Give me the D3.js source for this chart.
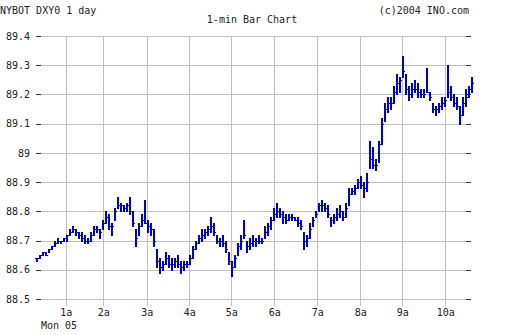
<!DOCTYPE html>
<html>
<head>
<meta charset="utf-8">
<script src="https://cdn.jsdelivr.net/npm/d3@7"></script>
<style>
  html, body { margin: 0; padding: 0; background: #fff; }
  svg { display: block; }
  text { font-family: "DejaVu Sans Mono", monospace; font-size: 10px; fill: #222; }
</style>
</head>
<body>
<svg id="chart" width="512" height="335"></svg>
<script>
// ---- data ----
const highs = [
  88.64,88.65,88.66,88.66,88.67,88.68,88.70,88.71,88.70,88.71,
  88.72,88.74,88.75,88.74,88.73,88.73,88.72,88.71,88.73,88.75,
  88.75,88.74,88.77,88.80,88.79,88.76,88.81,88.85,88.83,88.82,
  88.83,88.85,88.80,88.74,88.76,88.79,88.84,88.77,88.76,88.74,
  88.67,88.64,88.63,88.66,88.65,88.64,88.64,88.65,88.63,88.63,
  88.63,88.65,88.68,88.70,88.72,88.74,88.74,88.75,88.78,88.76,
  88.72,88.71,88.72,88.70,88.66,88.63,88.65,88.69,88.72,88.77,
  88.70,88.71,88.72,88.71,88.72,88.71,88.75,88.76,88.78,88.81,
  88.83,88.81,88.80,88.79,88.79,88.79,88.78,88.78,88.77,88.73,
  88.72,88.76,88.78,88.80,88.83,88.84,88.83,88.82,88.78,88.79,
  88.81,88.82,88.80,88.83,88.88,88.88,88.89,88.91,88.92,88.90,
  88.93,89.04,89.02,88.98,89.04,89.12,89.17,89.19,89.19,89.23,
  89.27,89.26,89.33,89.27,89.23,89.24,89.25,89.24,89.22,89.22,
  89.29,89.21,89.17,89.16,89.17,89.19,89.19,89.30,89.23,89.20,
  89.19,89.16,89.19,89.22,89.23,89.26
];
const lows = [
  88.63,88.64,88.65,88.65,88.66,88.67,88.68,88.69,88.69,88.70,
  88.70,88.72,88.73,88.72,88.71,88.70,88.69,88.69,88.70,88.72,
  88.73,88.71,88.74,88.76,88.74,88.72,88.77,88.81,88.80,88.80,
  88.80,88.79,88.75,88.68,88.72,88.75,88.76,88.73,88.72,88.68,
  88.61,88.59,88.60,88.62,88.61,88.60,88.61,88.61,88.59,88.60,
  88.61,88.62,88.64,88.67,88.69,88.70,88.71,88.72,88.73,88.72,
  88.69,88.68,88.68,88.66,88.62,88.58,88.61,88.65,88.67,88.71,
  88.66,88.67,88.68,88.68,88.69,88.69,88.71,88.72,88.74,88.77,
  88.78,88.78,88.76,88.76,88.77,88.77,88.77,88.75,88.74,88.67,
  88.68,88.71,88.75,88.78,88.80,88.80,88.80,88.78,88.75,88.76,
  88.77,88.78,88.77,88.78,88.82,88.86,88.86,88.88,88.88,88.85,
  88.87,88.95,88.95,88.94,88.97,89.03,89.11,89.14,89.15,89.17,
  89.20,89.21,89.26,89.20,89.18,89.19,89.21,89.19,89.19,89.19,
  89.21,89.18,89.14,89.13,89.14,89.15,89.16,89.19,89.18,89.16,
  89.15,89.10,89.13,89.16,89.19,89.21
];
const closes = [
  88.64,88.65,88.66,88.65,88.67,88.68,88.69,88.70,88.70,88.71,
  88.72,88.73,88.74,88.73,88.72,88.71,88.70,88.70,88.72,88.74,
  88.74,88.73,88.76,88.78,88.75,88.75,88.80,88.82,88.82,88.81,
  88.82,88.80,88.76,88.71,88.75,88.77,88.76,88.75,88.74,88.70,
  88.63,88.61,88.62,88.64,88.62,88.62,88.63,88.62,88.61,88.62,
  88.62,88.64,88.67,88.69,88.71,88.72,88.73,88.74,88.75,88.73,
  88.70,88.70,88.69,88.67,88.63,88.61,88.64,88.68,88.70,88.72,
  88.68,88.69,88.70,88.70,88.70,88.70,88.73,88.75,88.77,88.79,
  88.80,88.79,88.78,88.77,88.78,88.78,88.77,88.76,88.75,88.70,
  88.71,88.74,88.77,88.79,88.82,88.82,88.81,88.79,88.77,88.78,
  88.79,88.80,88.78,88.81,88.86,88.87,88.88,88.90,88.89,88.88,
  88.90,88.98,88.96,88.96,89.03,89.10,89.15,89.17,89.17,89.21,
  89.24,89.25,89.28,89.22,89.20,89.22,89.22,89.21,89.20,89.20,
  89.21,89.19,89.15,89.15,89.16,89.17,89.18,89.21,89.19,89.17,
  89.16,89.13,89.17,89.19,89.22,89.24
];
const yTicks = [88.5, 88.6, 88.7, 88.8, 88.9, 89.0, 89.1, 89.2, 89.3, 89.4];
const hourTickIndex = [9.9, 22.43, 36.9, 51.1, 65.1, 79.43, 93.77, 108.1, 122.1, 136.43];
const hourLabels = ["1a", "2a", "3a", "4a", "5a", "6a", "7a", "8a", "9a", "10a"];
const dayLabel = "Mon 05";
const titleLeft = "NYBOT DXY0 1 day";
const titleRight = "(c)2004 INO.com";
const titleCenter = "1-min Bar Chart";

// ---- layout ----
const svg = d3.select("#chart");
const plot = { left: 40, right: 466, top: 36, bottom: 299 };

const x = d3.scaleLinear().domain([0, highs.length - 1]).range([36, 471]);
const y = d3.scaleLinear().domain([88.5, 89.4]).range([plot.bottom, plot.top]);

const fmt = v => String(+v.toFixed(1));
const gridColor = "#c0c0c0";

// horizontal gridlines
const gy = svg.append("g").attr("transform", `translate(${plot.left},0)`)
  .call(d3.axisLeft(y).tickValues(yTicks).tickSize(-(plot.right - plot.left)).tickFormat(""));
gy.select(".domain").remove();
gy.selectAll("line").attr("stroke", gridColor).attr("shape-rendering", "crispEdges");

// vertical gridlines (extend below plot as ticks)
const gx = svg.append("g").attr("transform", `translate(0,${plot.bottom})`)
  .call(d3.axisBottom(x).tickValues(hourTickIndex).tickSize(7).tickPadding(3)
    .tickFormat((d, i) => hourLabels[i]));
gx.select(".domain").remove();
gx.selectAll("line").attr("stroke", gridColor).attr("shape-rendering", "crispEdges")
  .attr("y1", -(plot.bottom - plot.top));
gx.selectAll("text").attr("fill", "#333").style("font-family", "DejaVu Sans Mono").style("font-size", "10px");

// left axis ticks + labels
const ly = svg.append("g").attr("transform", `translate(${plot.left + 1},0)`)
  .call(d3.axisLeft(y).tickValues(yTicks).tickSize(5).tickPadding(6).tickFormat(fmt));
ly.select(".domain").remove();
ly.selectAll("line").attr("stroke", "#333").attr("shape-rendering", "crispEdges");
ly.selectAll("text").attr("fill", "#333").style("font-family", "DejaVu Sans Mono").style("font-size", "10px");

// right axis ticks
const ry = svg.append("g").attr("transform", `translate(${plot.right},0)`)
  .call(d3.axisRight(y).tickValues(yTicks).tickSize(5).tickFormat(""));
ry.select(".domain").remove();
ry.selectAll("line").attr("stroke", "#333").attr("shape-rendering", "crispEdges");

// bars: high-low line with open (left) and close (right) ticks
const barColor = "#0000cc";
const bars = svg.append("g").attr("shape-rendering", "crispEdges").attr("stroke", barColor).attr("stroke-width", 1);
const idx = d3.range(highs.length);
const px = i => Math.round(x(i));
const py = v => Math.round(y(v)) + 0.5;
bars.selectAll("line.hl").data(idx).join("line")
  .attr("class", "hl")
  .attr("x1", i => px(i) + 1).attr("x2", i => px(i) + 1)
  .attr("stroke-width", 2)
  .attr("y1", i => Math.round(y(highs[i]))).attr("y2", i => Math.round(y(lows[i])) + 1);
bars.selectAll("line.op").data(idx).join("line")
  .attr("class", "op")
  .attr("x1", i => px(i) - 1).attr("x2", i => px(i))
  .attr("y1", i => py(i > 0 ? closes[i - 1] : closes[i]))
  .attr("y2", i => py(i > 0 ? closes[i - 1] : closes[i]));
bars.selectAll("line.cl").data(idx).join("line")
  .attr("class", "cl")
  .attr("x1", i => px(i) + 2).attr("x2", i => px(i) + 3)
  .attr("y1", i => py(closes[i]))
  .attr("y2", i => py(closes[i]));

// titles
svg.append("text").attr("x", 0).attr("y", 14).text(titleLeft);
svg.append("text").attr("x", 469).attr("y", 14).attr("text-anchor", "end").text(titleRight);
svg.append("text").attr("x", 252).attr("y", 23).attr("text-anchor", "middle").text(titleCenter);
svg.append("text").attr("x", 41).attr("y", 329).text(dayLabel);
</script>
</body>
</html>
